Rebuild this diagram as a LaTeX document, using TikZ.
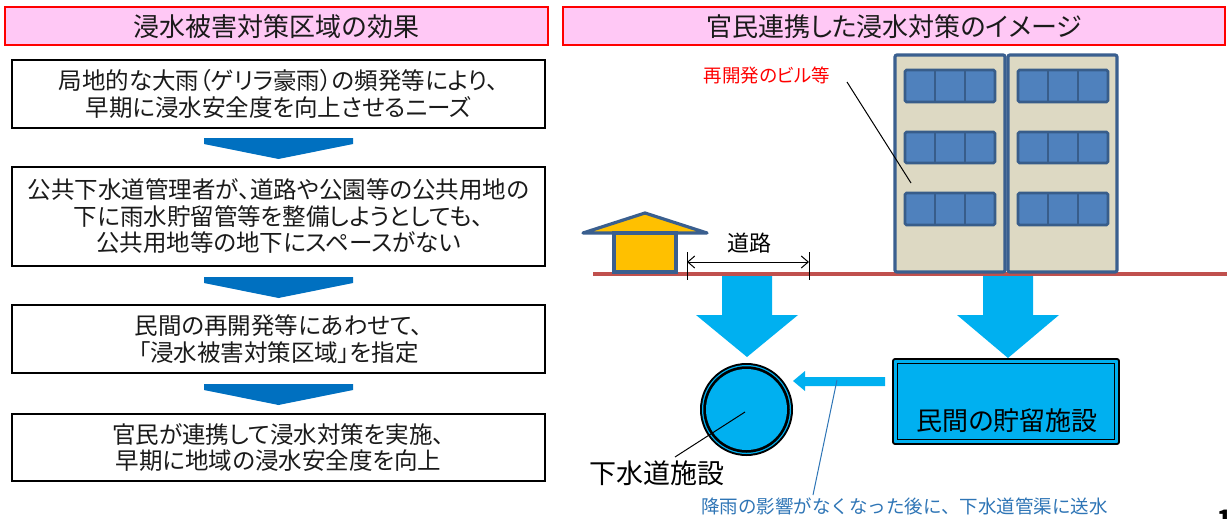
\documentclass[tikz,border=0pt]{standalone}
\usepackage{fontspec}
\setmainfont{Noto Sans CJK JP}[RawFeature=+palt]
\newfontfamily\fullwidth{Noto Sans CJK JP}
\usetikzlibrary{arrows.meta}
\newcommand{\fsz}[1]{\fontsize{#1}{#1}\selectfont}
\definecolor{titlefill}{HTML}{FFC8F5}
\definecolor{textgray}{HTML}{1A1A1A}
\definecolor{flowblue}{HTML}{0070C0}
\definecolor{waterblue}{HTML}{00B0F0}
\definecolor{wallbeige}{HTML}{DDD9C3}
\definecolor{framenavy}{HTML}{3A5F8F}
\definecolor{glassblue}{HTML}{4F81BD}
\definecolor{glassedge}{HTML}{385D8A}
\definecolor{groundred}{HTML}{C0504D}
\definecolor{housegold}{HTML}{FFC000}
\definecolor{notesblue}{HTML}{2E75B6}
\tikzset{
  titlebox/.style={draw=red, line width=1.6pt, fill=titlefill},
  stepbox/.style={draw=black, line width=1.4pt, fill=white},
  boxtext/.style={text=textgray, align=center, font=\fsz{23.5}, inner sep=0pt},
  chevron/.style={fill=flowblue, draw=none},
  bigflow/.style={fill=waterblue, draw=none},
  wall/.style={fill=wallbeige, draw=framenavy, line width=3.2pt, rounded corners=2pt},
  pane/.style={fill=glassblue, draw=glassedge, line width=2.6pt, rounded corners=1.5pt},
  leader/.style={draw=black, line width=1pt},
}
\begin{document}
\begin{tikzpicture}[x=1pt, y=-1pt]
\useasboundingbox (0,0) rectangle (1227,519);
\fill[white] (0,0) rectangle (1227,519);

% ---------- left column: flow of reasoning ----------
\draw[titlebox] (5,7) rectangle (548,45);
\node[text=textgray, font=\fsz{26}, inner sep=0pt] (ltitle) at (276.5,26.5) {浸水被害対策区域の効果};

\draw[stepbox] (12,60) rectangle (545,128);
\node[boxtext] (s1) at (278.5,94) {局地的な大雨（ゲリラ豪雨）の頻発等により、\\[3pt]早期に浸水安全度を向上させるニーズ};

\fill[chevron] (204,138) -- (353,138) -- (353,144) -- (278.5,159) -- (204,144) -- cycle;

\draw[stepbox] (12,167) rectangle (545,266);
\node[boxtext] (s2) at (278.5,216.5) {公共下水道管理者が、道路や公園等の公共用地の\\[3pt]下に雨水貯留管等を整備しようとしても、\\[3pt]公共用地等の地下にスペースがない};

\fill[chevron] (204,277) -- (353,277) -- (353,283) -- (278.5,298) -- (204,283) -- cycle;

\draw[stepbox] (12,305) rectangle (545,373);
\node[boxtext] (s3) at (278.5,339) {民間の再開発等にあわせて、\\[3pt]「浸水被害対策区域」を指定};

\fill[chevron] (204,384) -- (353,384) -- (353,390) -- (278.5,405) -- (204,390) -- cycle;

\draw[stepbox] (12,414) rectangle (545,481);
\node[boxtext] (s4) at (278.5,447.5) {官民が連携して浸水対策を実施、\\[3pt]早期に地域の浸水安全度を向上};

% ---------- right column: the scene ----------
\draw[titlebox] (563,7) rectangle (1225,45);
\node[text=textgray, font=\fsz{26}, inner sep=0pt] (rtitle) at (894,26.5) {官民連携した浸水対策のイメージ};

% ground
\draw[groundred, line width=3.2pt] (593,274) -- (1227,274);

% buildings
\draw[wall] (895,55) rectangle (1005,272);
\draw[wall] (1008,55) rectangle (1117,272);
\foreach \ya/\yb in {70/102, 132/163, 193/225}{
  \foreach \xa in {905, 1018}{
    \draw[pane] (\xa,\ya) rectangle ++(90,\yb-\ya);
    \draw[glassedge, line width=2.6pt] (\xa+30,\ya) -- (\xa+30,\yb)
                                       (\xa+60,\ya) -- (\xa+60,\yb);
  }
}

% house
\draw[fill=housegold, draw=framenavy, line width=3.2pt, line join=round]
  (583,233) -- (645,213) -- (707,233) -- cycle;
\draw[fill=housegold, draw=framenavy, line width=3.2pt] (614,233) rectangle (676,272);

% road width
\coordinate (rl) at (687,262);
\coordinate (rr) at (809,262);
\draw[black, line width=1pt] (687,252) -- (687,280) (809,252) -- (809,280);
\draw[black, line width=1pt, {Straight Barb[length=7pt,width=12pt]}-{Straight Barb[length=7pt,width=12pt]}] (rl) -- (rr);
\node[text=black, font=\fsz{22}, inner sep=0pt] (road) at (749,243) {道路};

% rainwater arrows
\fill[bigflow] (722,276) -- (772,276) -- (772,315) -- (798,315) -- (747,357)
  -- (696,315) -- (722,315) -- cycle;
\fill[bigflow] (983,276) -- (1033,276) -- (1033,315) -- (1059,315) -- (1008,358)
  -- (957,315) -- (983,315) -- cycle;

% sewer pipe
\node[circle, minimum size=93pt, fill=black, inner sep=0pt] (pipe) at (746.5,409.5) {};
\node[circle, minimum size=89pt, fill=waterblue, inner sep=0pt] at (pipe.center) {};
\node[circle, minimum size=86.5pt, fill=black, inner sep=0pt] at (pipe.center) {};
\node[circle, minimum size=81pt, fill=waterblue, inner sep=0pt] at (pipe.center) {};

% private storage facility
\draw[fill=waterblue, draw=black, line width=1.8pt, rounded corners=2pt] (893,359) rectangle (1119,444);
\draw[draw=black, line width=1.8pt] (897.5,363.5) rectangle (1114.5,439.5);
\node[text=black, font=\fsz{26}, inner sep=0pt] (store) at (1007,421) {民間の貯留施設};

% release to sewer
\fill[bigflow] (885,377) -- (805,377) -- (805,371) -- (793,381) -- (805,391) -- (805,386)
  -- (885,386) -- cycle;

% labels and leaders
\node[text=black, font=\fsz{27}, inner sep=0pt] (pipelabel) at (657,473) {下水道施設};
\coordinate (pipetip) at (745,412);
\coordinate (pipefoot) at (675,457);
\draw[leader] (pipetip) -- (pipefoot);

\node[text=red, font=\fsz{18.5}, inner sep=0pt] (bldglabel) at (767,75) {再開発のビル等};
\coordinate (bldgfoot) at (847,82);
\coordinate (bldgtip) at (911,183);
\draw[leader] (bldgfoot) -- (bldgtip);

\node[text=notesblue, font=\fullwidth\fsz{18.5}, inner sep=0pt, anchor=west] (note) at (701,506) {降雨の影響がなくなった後に、下水道管渠に送水};
\coordinate (notetip) at (837,380);
\coordinate (notefoot) at (813,495);
\draw[notesblue, line width=1pt] (notetip) -- (notefoot);

% page number, cut by the page edge
\node[text=black, font=\bfseries\fsz{24}, inner sep=0pt, anchor=north west] (pageno) at (1217,510) {1};
\end{tikzpicture}
\end{document}
